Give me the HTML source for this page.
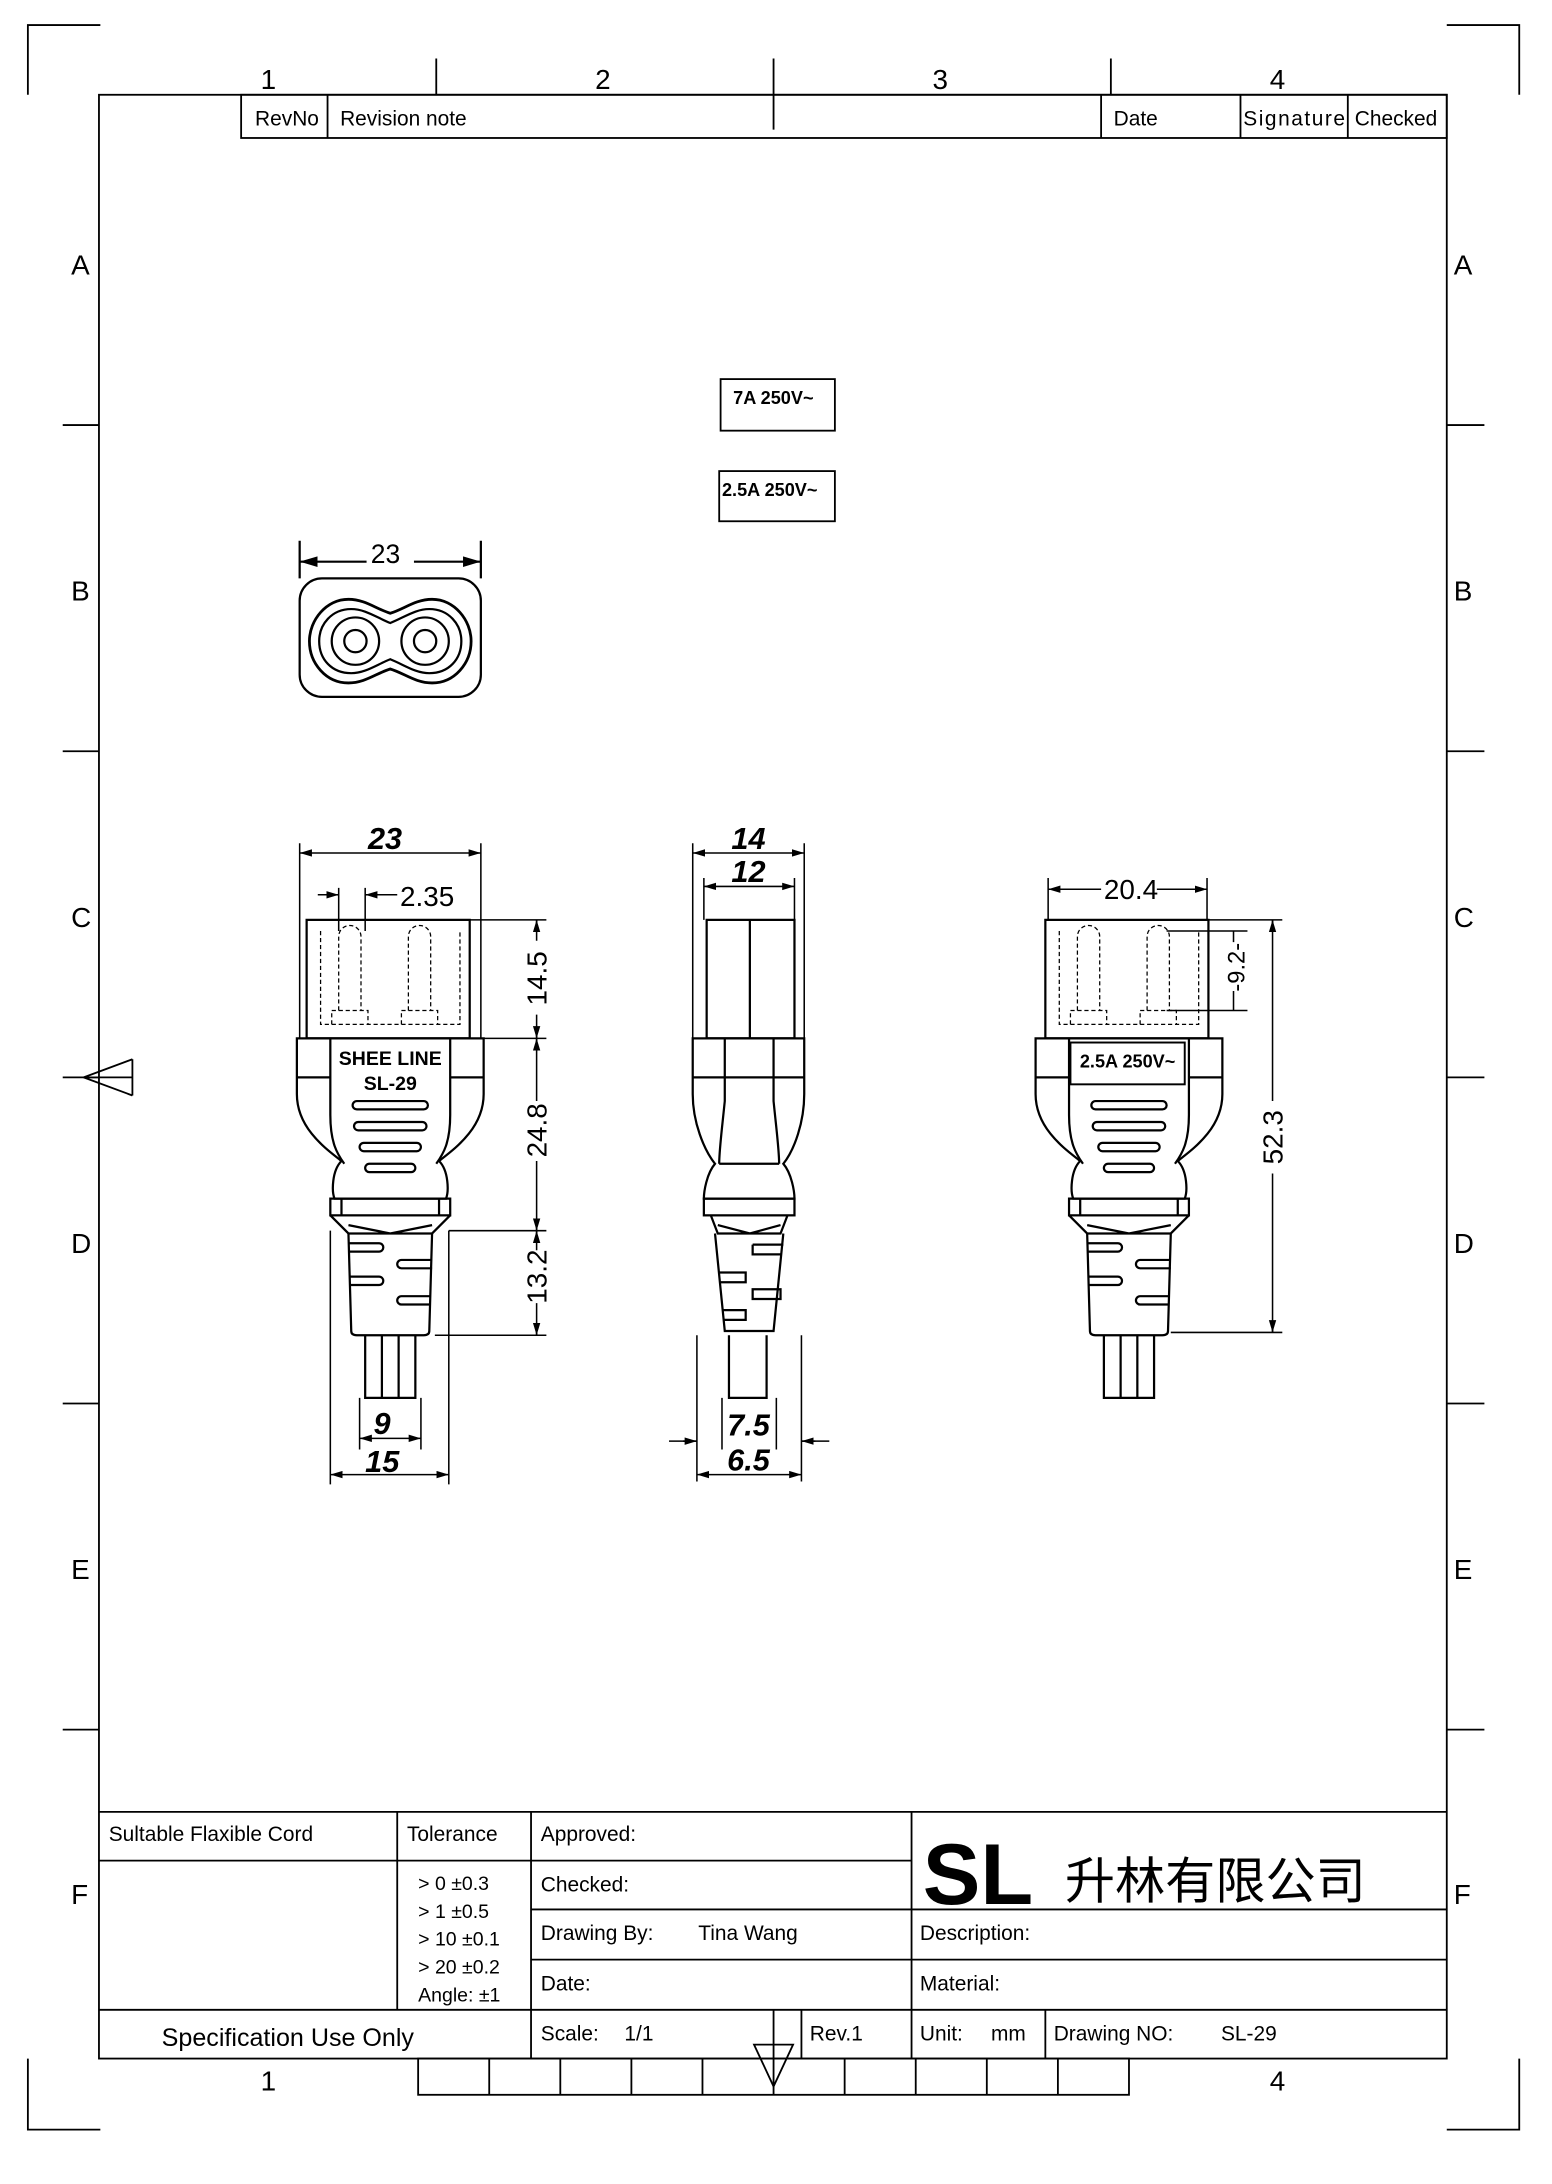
<!DOCTYPE html>
<html><head><meta charset="utf-8"><style>
html,body{margin:0;padding:0;background:#fff}
svg{display:block}
text{font-family:"Liberation Sans","Noto Sans CJK SC",sans-serif;fill:#000}
</style></head><body>
<svg width="1552" height="2184" viewBox="0 0 1113.5 1567" preserveAspectRatio="none" xmlns="http://www.w3.org/2000/svg">
<defs>
<marker id="a" viewBox="0 0 10 6" refX="10" refY="3" markerWidth="8" markerHeight="5" orient="auto-start-reverse"><path d="M0,0 L10,3 L0,6z" fill="#000"/></marker>
<g id="plug" fill="none" stroke="#000" stroke-width="1.6">
 <rect x="-60" y="660" width="117" height="85"/>
 <g stroke-dasharray="3,2" stroke-width="0.9">
  <path d="M-50,668 V735 H50 V668"/>
  <path d="M-37,725 V672 a8,8 0 0 1 16,0 V725"/>
  <path d="M13,725 V672 a8,8 0 0 1 16,0 V725"/>
  <path d="M-42,735 V725 H-16 V735 M8,735 V725 H34 V735"/>
 </g>
 <path d="M-67,745 H67 V785 C67,810 45,825 35,833 C42,840 42,855 40,860 H-40 C-42,855 -42,840 -35,833 C-45,825 -67,810 -67,785 Z" fill="#fff"/>
 <path d="M-67,773 H-43 M67,773 H43 M-43,745 V800 C-43,820 -38,828 -33,835 M43,745 V800 C43,820 38,828 33,835"/>
 <rect x="-43" y="860" width="86" height="12"/>
 <path d="M-35,860 V872 M35,860 V872"/>
 <path d="M-43,872 L-30,885 H30 L43,872 M-30,879 L0,885 L30,879"/>
 <path d="M-30,885 L-28,955 Q-28,958 -24,958 H24 Q28,958 28,955 L30,885"/>
 <path d="M-30,892 H-8 a3,3 0 0 1 0,6 H-30 M-29,916 H-8 a3,3 0 0 1 0,6 H-29 M30,904 H8 a3,3 0 0 0 0,6 H30 M29,930 H8 a3,3 0 0 0 0,6 H29"/>
 <path d="M-18,958 V1003 H18 V958 M-6,958 V1003 M6,958 V1003"/>
 <rect x="-27" y="790" width="54" height="6" rx="3"/>
 <rect x="-26" y="805" width="52" height="6" rx="3"/>
 <rect x="-22" y="820" width="44" height="6" rx="3"/>
 <rect x="-18" y="835" width="36" height="6" rx="3"/>
</g>
</defs>
<g fill="none" stroke="#000" stroke-width="1.3">
 <path d="M20,68 V18 H72 M1038,18 H1090 V68 M20,1477 V1528 H72 M1038,1528 H1090 V1477"/>
 <rect x="71" y="68" width="967" height="1409"/>
 <path d="M313,42 V68 M555,42 V93 M797,42 V68"/>
 <path d="M45,305 H71 M45,539 H71 M45,773 H71 M45,1007 H71 M45,1241 H71 M1038,305 H1065 M1038,539 H1065 M1038,773 H1065 M1038,1007 H1065 M1038,1241 H1065"/>
 <path d="M95,760 V786 M95,773 L60,773 L95,760 M95,786 L60,773"/>
 <rect x="173" y="68" width="865" height="31"/>
 <path d="M235,68 V99 M790,68 V99 M890,68 V99 M967,68 V99"/>
 <rect x="300" y="1477" width="510" height="26"/>
 <path d="M351,1477 V1503 M402,1477 V1503 M453,1477 V1503 M504,1477 V1503 M555,1442 V1503 M606,1477 V1503 M657,1477 V1503 M708,1477 V1503 M759,1477 V1503"/>
 <path d="M541,1467 H569 L555,1497 Z"/>
 <path d="M71,1300 H1038 M71,1335 H381 M381,1335 H654 M381,1370 H1038 M381,1406 H1038 M71,1442 H1038"/>
 <path d="M285,1300 V1442 M381,1300 V1477 M654,1300 V1477 M575,1442 V1477 M750,1442 V1477"/>
</g>
<g font-size="20">
 <text x="187" y="64">1</text><text x="427" y="64">2</text><text x="669" y="64">3</text><text x="911" y="64">4</text>
 <text x="187" y="1500">1</text><text x="911" y="1500">4</text>
</g>
<g font-size="20">
 <text x="51" y="197">A</text><text x="51" y="431">B</text><text x="51" y="665">C</text><text x="51" y="899">D</text><text x="51" y="1133">E</text><text x="51" y="1366">F</text>
 <text x="1043" y="197">A</text><text x="1043" y="431">B</text><text x="1043" y="665">C</text><text x="1043" y="899">D</text><text x="1043" y="1133">E</text><text x="1043" y="1366">F</text>
</g>
<g font-size="15">
 <text x="183" y="90">RevNo</text><text x="244" y="90">Revision note</text><text x="799" y="90">Date</text><text x="892" y="90" textLength="73">Signature</text><text x="972" y="90">Checked</text>
 <text x="78" y="1321">Sultable Flaxible Cord</text><text x="292" y="1321">Tolerance</text><text x="388" y="1321">Approved:</text>
 <text x="388" y="1357">Checked:</text><text x="388" y="1392">Drawing By:</text><text x="501" y="1392">Tina Wang</text>
 <text x="660" y="1392">Description:</text><text x="388" y="1428">Date:</text><text x="660" y="1428">Material:</text>
 <text x="388" y="1464">Scale:</text><text x="448" y="1464">1/1</text><text x="581" y="1464">Rev.1</text>
 <text x="660" y="1464">Unit:</text><text x="711" y="1464">mm</text><text x="756" y="1464">Drawing NO:</text><text x="876" y="1464">SL-29</text>
 <text x="116" y="1468" font-size="18">Specification Use Only</text>
</g>
<g font-size="14">
 <text x="300" y="1356">&gt; 0  ±0.3</text><text x="300" y="1376">&gt; 1  ±0.5</text><text x="300" y="1396">&gt; 10  ±0.1</text><text x="300" y="1416">&gt; 20  ±0.2</text><text x="300" y="1436">Angle: ±1</text>
</g>
<text x="662" y="1366" font-size="62" font-weight="bold">SL</text>
<text x="764" y="1362" font-size="36" font-family="Noto Serif CJK SC,serif">升林有限公司</text>

<g fill="none" stroke="#000" stroke-width="1.3"><rect x="517" y="272" width="82" height="37"/><rect x="516" y="338" width="83" height="36"/></g>
<text x="526" y="290" font-size="13" font-weight="bold">7A 250V~</text>
<text x="518" y="356" font-size="13" font-weight="bold">2.5A 250V~</text>

<g fill="none" stroke="#000" stroke-width="1.6">
 <rect x="215" y="415" width="130" height="85" rx="16"/>
 <path d="M250,430 C234,430 222,445 222,460 C222,476 234,490 250,490 C262,490 270,483 280,480 C290,483 298,490 310,490 C326,490 338,476 338,460 C338,445 326,430 310,430 C298,430 290,437 280,440 C270,437 262,430 250,430 Z" stroke-width="2"/>
 <path d="M252,437 C238,437 229,448 229,460 C229,473 238,483 252,483 C262,483 270,477 280,473 C290,477 298,483 308,483 C322,483 331,473 331,460 C331,448 322,437 308,437 C298,437 290,443 280,447 C270,443 262,437 252,437 Z"/>
 <circle cx="255" cy="460" r="17"/><circle cx="255" cy="460" r="8"/>
 <circle cx="305" cy="460" r="17"/><circle cx="305" cy="460" r="8"/>
 <path d="M215,388 V415 M345,388 V415"/>
 <path d="M215,403 H263 M297,403 H345" marker-start="url(#a)" marker-end="url(#a)"/>
</g>
<text x="266" y="404" font-size="19">23</text>

<use href="#plug" transform="translate(280,0)"/>
<text x="280" y="764" font-size="14" font-weight="bold" text-anchor="middle">SHEE LINE</text>
<text x="280" y="782" font-size="14" font-weight="bold" text-anchor="middle">SL-29</text>
<g fill="none" stroke="#000" stroke-width="1.1">
 <path d="M215,605 V745 M345,605 V745"/>
 <path d="M215,612 H345" marker-start="url(#a)" marker-end="url(#a)"/>
 <path d="M243,637 V668 M262,637 V668 M228,642 H243 M262,642 H285" />
 <path d="M236,642 L243,642" marker-end="url(#a)"/><path d="M268,642 L262,642" marker-end="url(#a)"/>
 <path d="M337,660 H392 M347,745 H392 M322,883 H392 M312,958 H392"/>
 <path d="M385,660 V675 M385,728 V790 M385,833 V897 M385,935 V958"/>
 <path d="M385,668 V660" marker-end="url(#a)"/><path d="M385,737 V745" marker-end="url(#a)"/>
 <path d="M385,753 V745" marker-end="url(#a)"/><path d="M385,875 V883" marker-end="url(#a)"/>
 <path d="M385,891 V883" marker-end="url(#a)"/><path d="M385,950 V958" marker-end="url(#a)"/>
 <path d="M258,1003 V1040 M302,1003 V1040 M237,883 V1065 M322,883 V1065"/>
 <path d="M258,1032 H302" marker-start="url(#a)" marker-end="url(#a)"/>
 <path d="M237,1058 H322" marker-start="url(#a)" marker-end="url(#a)"/>
</g>
<text x="264" y="609" font-size="22" font-style="italic" font-weight="bold">23</text>
<text x="287" y="650" font-size="20">2.35</text>
<text x="268" y="1029" font-size="22" font-style="italic" font-weight="bold">9</text>
<text x="262" y="1056" font-size="22" font-style="italic" font-weight="bold">15</text>
<g font-size="20">
 <text transform="translate(392,702) rotate(-90)" text-anchor="middle">14.5</text>
 <text transform="translate(392,811) rotate(-90)" text-anchor="middle">24.8</text>
 <text transform="translate(392,916) rotate(-90)" text-anchor="middle">13.2</text>
</g>

<g fill="none" stroke="#000" stroke-width="1.6">
 <rect x="507" y="660" width="63" height="85"/><path d="M538,660 V745"/>
 <path d="M497,745 H577 V785 C577,805 570,825 562,835 C568,842 570,855 570,860 H505 C505,855 507,842 513,835 C505,825 497,805 497,785 Z" fill="#fff"/>
 <path d="M497,773 H577 M520,745 V790 C518,810 516,825 516,835 M555,745 V790 C557,810 559,825 559,835 M516,835 H559"/>
 <rect x="505" y="860" width="65" height="12"/>
 <path d="M510,872 L515,885 H560 L565,872 M515,879 L538,885 L560,879"/>
 <path d="M513,885 L520,955 H555 L562,885"/>
 <path d="M540,893 H562 M540,893 V900 H561 M516,913 H535 V920 H517 M540,925 H560 V932 H540 Z M518,940 H535 V947 H519"/>
 <path d="M523,958 V1003 H550 V958"/>
</g>
<g fill="none" stroke="#000" stroke-width="1.1">
 <path d="M497,605 V745 M577,605 V745 M505,630 V660 M570,630 V660"/>
 <path d="M497,612 H577" marker-start="url(#a)" marker-end="url(#a)"/>
 <path d="M505,636 H570" marker-start="url(#a)" marker-end="url(#a)"/>
 <path d="M500,958 V1063 M575,958 V1063 M518,1003 V1040 M557,1003 V1040"/>
 <path d="M480,1034 H500 M575,1034 H595"/>
 <path d="M490,1034 H500" marker-end="url(#a)"/><path d="M585,1034 H575" marker-end="url(#a)"/>
 <path d="M500,1058 H575" marker-start="url(#a)" marker-end="url(#a)"/>
</g>
<text x="537" y="609" font-size="22" font-style="italic" font-weight="bold" text-anchor="middle">14</text>
<text x="537" y="633" font-size="22" font-style="italic" font-weight="bold" text-anchor="middle">12</text>
<text x="537" y="1030" font-size="22" font-style="italic" font-weight="bold" text-anchor="middle">7.5</text>
<text x="537" y="1055" font-size="22" font-style="italic" font-weight="bold" text-anchor="middle">6.5</text>

<use href="#plug" transform="translate(810,0)"/>
<rect x="768" y="748" width="82" height="30" fill="#fff" stroke="#000" stroke-width="1.4"/>
<text x="809" y="766" font-size="13" font-weight="bold" text-anchor="middle">2.5A 250V~</text>
<g fill="none" stroke="#000" stroke-width="1.1">
 <path d="M752,630 V660 M866,630 V660"/>
 <path d="M752,638 H790 M830,638 H866" marker-start="url(#a)" marker-end="url(#a)"/>
 <path d="M866,660 H920 M837,668 H895 M837,725 H895 M840,956 H920"/>
 <path d="M885,668 V676 M885,711 V725"/>
 <path d="M913,660 V790 M913,842 V956"/>
 <path d="M913,668 V660" marker-end="url(#a)"/><path d="M913,948 V956" marker-end="url(#a)"/>
</g>
<text x="792" y="645" font-size="20">20.4</text>
<g font-size="20">
 <text transform="translate(893,694) rotate(-90)" text-anchor="middle" font-size="17">-9.2-</text>
 <text transform="translate(920,816) rotate(-90)" text-anchor="middle">52.3</text>
</g>
</svg>
</body></html>
